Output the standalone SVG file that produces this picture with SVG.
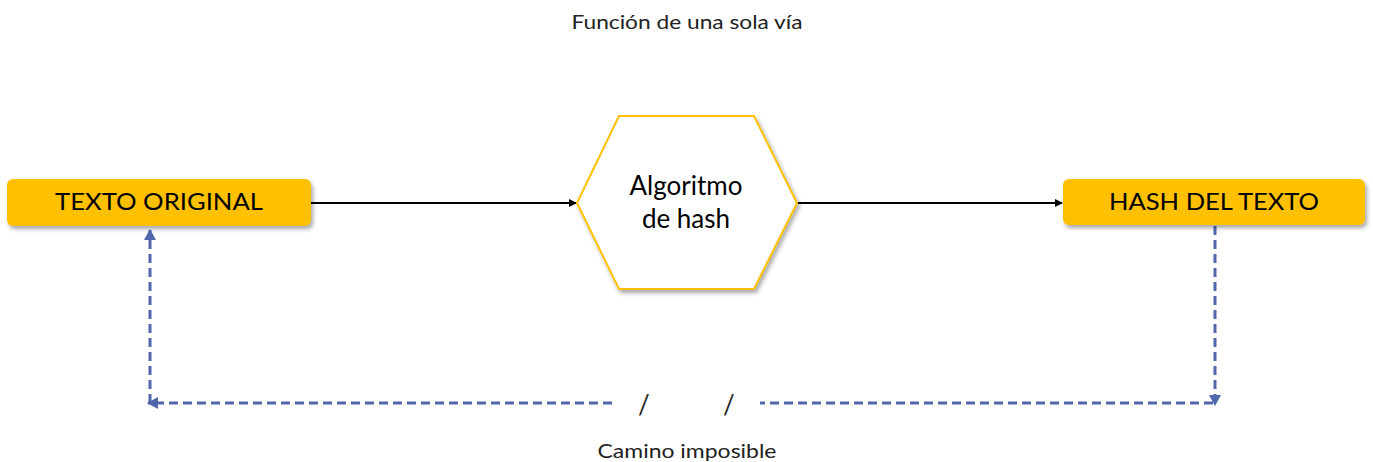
<svg xmlns="http://www.w3.org/2000/svg" width="1373" height="462" viewBox="0 0 1373 462">
<style>
.lbl{font-family:Lato,"Noto Sans","DejaVu Sans",sans-serif;fill:#000}
.box{fill:#FFC000}
.hex{fill:#fff;stroke:#FFC000;stroke-width:2}
.solid{stroke:#000;stroke-width:2;fill:none}
.dash{stroke:#5266AD;stroke-width:3;fill:none;stroke-dasharray:9 5}
.note{font-family:Lato,"Noto Sans",sans-serif;fill:#222}
</style>
<defs>
<filter id="sh" x="-10%" y="-20%" width="120%" height="150%">
<feDropShadow dx="2" dy="3" stdDeviation="2" flood-color="#000" flood-opacity="0.35"/>
</filter>
<marker id="ab" markerWidth="8" markerHeight="8" refX="7" refY="4" orient="auto" markerUnits="userSpaceOnUse">
<path d="M0,0 L8,4 L0,8 z" fill="#000"/>
</marker>
<marker id="ad" markerWidth="12" markerHeight="12" refX="10" refY="6" orient="auto" markerUnits="userSpaceOnUse">
<path d="M0,0 L11,6 L0,12 z" fill="#5266AD"/>
</marker>
</defs>
<text class="note" x="687" y="29" text-anchor="middle" font-size="19" textLength="231" lengthAdjust="spacingAndGlyphs">Función de una sola vía</text>
<g id="connectors">
<line class="solid" x1="311" y1="203" x2="576" y2="203" marker-end="url(#ab)"/>
<line class="solid" x1="797" y1="203" x2="1062" y2="203" marker-end="url(#ab)"/>
<path class="dash" d="M1215 226 V405" marker-end="url(#ad)"/>
<path class="dash" d="M1213 403 H760"/>
<path class="dash" d="M612 403 H148" marker-end="url(#ad)"/>
<path class="dash" d="M150 403 V230" marker-end="url(#ad)"/>
</g>
<g id="n1">
<rect class="box" x="7" y="179" width="304" height="47" rx="6" filter="url(#sh)"/>
<text class="lbl" x="159" y="210" text-anchor="middle" font-size="23" textLength="208" lengthAdjust="spacingAndGlyphs">TEXTO ORIGINAL</text>
</g>
<g id="n2">
<polygon class="hex" points="619,116 754,116 797,203 754,289 619,289 577,203" filter="url(#sh)"/>
<text class="lbl" x="686" y="195" text-anchor="middle" font-size="26">Algoritmo</text>
<text class="lbl" x="686" y="228" text-anchor="middle" font-size="26">de hash</text>
</g>
<g id="n3">
<rect class="box" x="1063" y="179" width="302" height="46" rx="6" filter="url(#sh)"/>
<text class="lbl" x="1214" y="210" text-anchor="middle" font-size="23" textLength="210" lengthAdjust="spacingAndGlyphs">HASH DEL TEXTO</text>
</g>
<text class="note" x="644" y="414" text-anchor="middle" font-size="26">/</text>
<text class="note" x="729" y="414" text-anchor="middle" font-size="26">/</text>
<text class="note" x="687" y="458" text-anchor="middle" font-size="20" textLength="179" lengthAdjust="spacingAndGlyphs">Camino imposible</text>
</svg>
